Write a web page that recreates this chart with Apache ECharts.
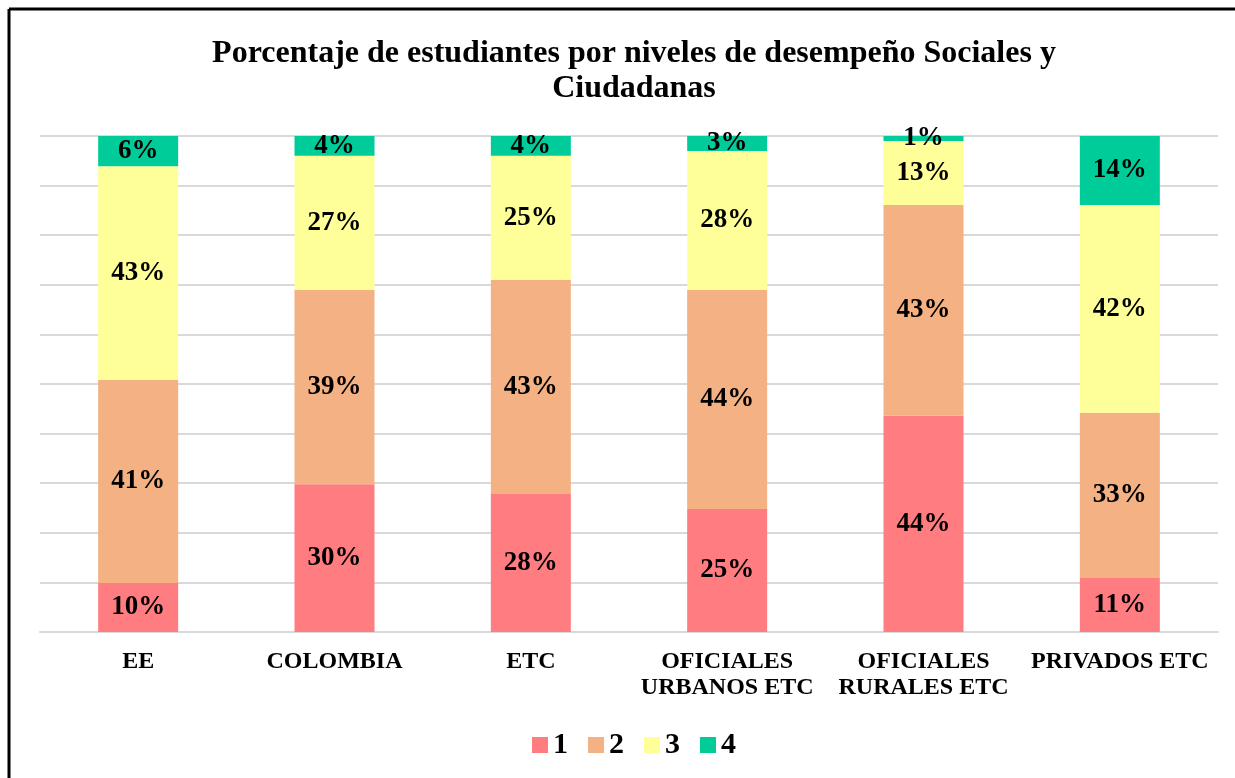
<!DOCTYPE html>
<html>
<head>
<meta charset="utf-8">
<script src="https://cdn.jsdelivr.net/npm/echarts@6/dist/echarts.min.js"></script>
<style>
html,body{margin:0;padding:0;background:#fff;}
#c{width:1235px;height:778px;}
</style>
</head>
<body>
<div id="c"></div>
<script>
const categories = ['EE', 'COLOMBIA', 'ETC', 'OFICIALES\nURBANOS ETC', 'OFICIALES\nRURALES ETC', 'PRIVADOS ETC'];
const seriesNames = ['1', '2', '3', '4'];
const nivel1 = [9.9, 29.8, 27.8, 24.8, 43.6, 10.9];
const nivel2 = [40.9, 39.2, 43.2, 44.2, 42.5, 33.3];
const nivel3 = [43.1, 27.0, 25.0, 28.0, 12.9, 41.9];
const nivel4 = [6.1, 4.0, 4.0, 3.0, 1.0, 13.9];
const colors = ['#FF7C80', '#F4B183', '#FFFF99', '#00CC99'];
const yTicks = { min: 0, max: 100, interval: 10 };

const FONT = '"Liberation Serif", "Times New Roman", serif';
const values = [nivel1, nivel2, nivel3, nivel4];

const chart = echarts.init(document.getElementById('c'));
chart.setOption({
  backgroundColor: '#ffffff',
  animation: false,
  title: {
    text: 'Porcentaje de estudiantes por niveles de desempeño Sociales y\nCiudadanas',
    left: 629,
    textAlign: 'center',
    top: 31,
    textStyle: { fontFamily: FONT, fontWeight: 'bold', fontSize: 32, lineHeight: 35, color: '#000' }
  },
  legend: {
    top: 725,
    left: 527,
    itemWidth: 16,
    itemHeight: 16,
    itemGap: 20,
    icon: 'rect',
    textStyle: { fontFamily: FONT, fontWeight: 'bold', fontSize: 30, color: '#000' },
    data: seriesNames
  },
  grid: { left: 40, right: 17, top: 136, bottom: 146, containLabel: false },
  xAxis: {
    type: 'category',
    data: categories,
    axisLine: { show: true, lineStyle: { color: '#d9d9d9', width: 2 } },
    axisTick: { show: false },
    axisLabel: { fontFamily: FONT, fontWeight: 'bold', fontSize: 24, lineHeight: 26, color: '#000', margin: 17, interval: 0 }
  },
  yAxis: {
    type: 'value',
    min: yTicks.min, max: yTicks.max, interval: yTicks.interval,
    axisLabel: { show: false },
    axisLine: { show: false },
    axisTick: { show: false },
    splitLine: { show: true, lineStyle: { color: '#d9d9d9', width: 2 } }
  },
  series: seriesNames.map((n, i) => ({
    name: n,
    type: 'bar',
    stack: 'total',
    barWidth: 80,
    data: values[i],
    itemStyle: { color: colors[i] },
    label: {
      show: true,
      position: 'inside',
      formatter: p => Math.round(p.value) + '%',
      fontFamily: FONT, fontWeight: 'bold', fontSize: 27, color: '#000'
    }
  })),
  graphic: [
    { type: 'line', shape: { x1: 9, y1: 9, x2: 1235, y2: 9 }, style: { stroke: '#000', lineWidth: 3 } },
    { type: 'line', shape: { x1: 9, y1: 9, x2: 9, y2: 778 }, style: { stroke: '#000', lineWidth: 3 } }
  ]
});
</script>
</body>
</html>
